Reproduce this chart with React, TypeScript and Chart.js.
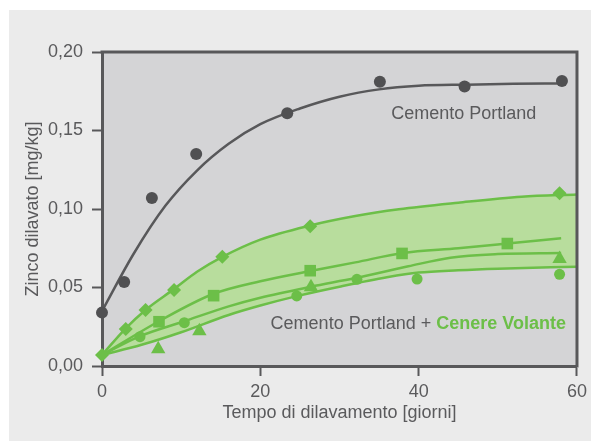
import React, { useEffect, useRef } from "react";
import { Chart, registerables } from "chart.js";

Chart.register(...registerables);

// ---------- style constants ----------
const FONT = '"Liberation Sans", Arial, Helvetica, sans-serif';
const GRAY = "#58585a";
const DARK_POINT = "#505052";
const TEXT = "#5a5a5c";
const GREEN = "#6cbf48";
const BAND = "#b8dd9d";
const PLOT_BG = "#d4d4d6";
const PANEL_BG = "#ebebeb";

// ---------- axes ----------
const xMin = 0;
const xMax = 60;
const xStep = 20;
const yMin = 0;
const yMax = 0.2;
const yStep = 0.05;
const xTitle = "Tempo di dilavamento [giorni]";
const yTitle = "Zinco dilavato [mg/kg]";

// ---------- Cemento Portland (dark) ----------
const cpX = [0, 2.8, 6.3, 11.9, 23.4, 35.1, 45.8, 58.1];
const cpY = [0.034, 0.0535, 0.107, 0.135, 0.161, 0.181, 0.178, 0.1815];
const cpFitX = [0, 4, 8, 12, 16, 20, 25, 30, 35, 40, 46, 52, 58];
const cpFitY = [0.035, 0.0715, 0.102, 0.1245, 0.1415, 0.154, 0.164, 0.1715, 0.1762, 0.1785, 0.1792, 0.1797, 0.18];

// ---------- Cemento Portland + Cenere Volante (green) ----------
const diamondX = [0, 3.0, 5.5, 9.1, 15.2, 26.3, 57.8];
const diamondY = [0.007, 0.0236, 0.0357, 0.0484, 0.0696, 0.089, 0.11];
const diamondFitX = [0, 3, 5.5, 9.1, 12, 15.2, 20, 26.3, 32, 37.5, 45, 53, 60];
const diamondFitY = [0.007, 0.024, 0.0357, 0.049, 0.06, 0.0695, 0.0805, 0.0895, 0.0955, 0.0998, 0.104, 0.1078, 0.1093];

const squareX = [7.2, 14.1, 26.3, 37.9, 51.2];
const squareY = [0.0282, 0.0448, 0.0607, 0.0717, 0.078];
const squareFitX = [0, 7.2, 14.1, 20, 26.3, 32, 38, 45, 51.2, 58];
const squareFitY = [0.007, 0.0285, 0.046, 0.054, 0.0605, 0.066, 0.072, 0.075, 0.078, 0.0814];

const circleX = [4.8, 10.4, 24.6, 32.2, 39.8, 57.8];
const circleY = [0.0187, 0.0276, 0.0446, 0.0552, 0.0554, 0.0584];
const upperLowX = [0, 4.8, 10.4, 16, 20, 26.4, 32, 38.7, 44, 50, 58];
const upperLowY = [0.007, 0.019, 0.0285, 0.038, 0.0435, 0.0505, 0.056, 0.0635, 0.069, 0.0713, 0.072];

const triangleX = [7.1, 12.3, 26.4, 57.8];
const triangleY = [0.0108, 0.0223, 0.0503, 0.0683];
const lowestX = [0, 5, 10, 16, 20, 24.6, 30, 36, 40, 45, 50, 60];
const lowestY = [0.007, 0.0135, 0.0215, 0.0325, 0.0385, 0.0445, 0.0505, 0.0565, 0.0595, 0.061, 0.062, 0.0632];

// ---------- annotations (data coordinates) ----------
const labelCP = "Cemento Portland";
const labelCPAt = { x: 45.7, y: 0.1573 };
const labelMixA = "Cemento Portland + ";
const labelMixB = "Cenere Volante";
const labelMixAt = { x: 58.6, y: 0.0234 };

const pts = (xs: number[], ys: number[]) => xs.map((x, i) => ({ x, y: ys[i] }));

const backgroundPlugin = {
  id: "bgPanel",
  beforeDraw(chart: any) {
    const { ctx, chartArea, width, height } = chart;
    ctx.save();
    ctx.fillStyle = "#ffffff";
    ctx.fillRect(0, 0, width, height);
    ctx.fillStyle = PANEL_BG;
    ctx.fillRect(9, 10, width - 10, height - 10);
    ctx.fillStyle = PLOT_BG;
    ctx.fillRect(chartArea.left, chartArea.top, chartArea.right - chartArea.left, chartArea.bottom - chartArea.top);
    ctx.restore();
  },
};

const framePlugin = {
  id: "frame",
  afterDatasetsDraw(chart: any) {
    const { ctx, chartArea } = chart;
    ctx.save();
    ctx.strokeStyle = GRAY;
    ctx.lineWidth = 3;
    ctx.beginPath();
    ctx.moveTo(chartArea.left - 1.5, chartArea.top);
    ctx.lineTo(chartArea.right, chartArea.top);
    ctx.lineTo(chartArea.right, chartArea.bottom + 1.5);
    ctx.stroke();
    ctx.restore();
  },
};

const labelsPlugin = {
  id: "labels",
  afterDatasetsDraw(chart: any) {
    const { ctx, scales } = chart;
    const xs = scales.x;
    const ys = scales.y;
    ctx.save();
    ctx.textBaseline = "alphabetic";
    ctx.font = `18px ${FONT}`;
    ctx.fillStyle = TEXT;
    ctx.textAlign = "center";
    ctx.fillText(labelCP, xs.getPixelForValue(labelCPAt.x), ys.getPixelForValue(labelCPAt.y));

    const rx = xs.getPixelForValue(labelMixAt.x);
    const by = ys.getPixelForValue(labelMixAt.y);
    ctx.textAlign = "left";
    ctx.font = `bold 18px ${FONT}`;
    const wB = ctx.measureText(labelMixB).width;
    ctx.font = `18px ${FONT}`;
    const wA = ctx.measureText(labelMixA).width;
    const startX = rx - wA - wB;
    ctx.fillStyle = TEXT;
    ctx.fillText(labelMixA, startX, by);
    ctx.font = `bold 18px ${FONT}`;
    ctx.fillStyle = GREEN;
    ctx.fillText(labelMixB, startX + wA, by);
    ctx.restore();
  },
};

export default function App() {
  const ref = useRef<HTMLCanvasElement | null>(null);

  useEffect(() => {
    if (!ref.current) return;
    Chart.defaults.font.family = FONT;

    const marker = (data: any[], style: string, radius: number, color: string) => ({
      data,
      showLine: false,
      pointStyle: style,
      pointRadius: radius,
      pointBackgroundColor: color,
      pointBorderColor: color,
      pointBorderWidth: 0,
      borderColor: color,
      backgroundColor: color,
      clip: false as any,
      fill: false,
    });
    const curve = (data: any[], color: string, extra: any = {}) => ({
      data,
      borderColor: color,
      borderWidth: 2.5,
      pointRadius: 0,
      cubicInterpolationMode: "monotone",
      clip: false as any,
      fill: false,
      ...extra,
    });

    const chart = new Chart(ref.current, {
      type: "line",
      data: {
        datasets: [
          marker(pts(cpX, cpY), "circle", 6, DARK_POINT),
          marker(pts(diamondX, diamondY), "rectRot", 7, GREEN),
          marker(pts(squareX, squareY), "rect", 8.2, GREEN),
          marker(pts(circleX, circleY), "circle", 5.5, GREEN),
          marker(pts(triangleX, triangleY), "triangle", 8.3, GREEN),
          curve(pts(cpFitX, cpFitY), GRAY),
          curve(pts(diamondFitX, diamondFitY), GREEN, { fill: 9, backgroundColor: BAND }),
          curve(pts(squareFitX, squareFitY), GREEN),
          curve(pts(upperLowX, upperLowY), GREEN),
          curve(pts(lowestX, lowestY), GREEN),
        ] as any,
      },
      options: {
        responsive: false,
        animation: false,
        devicePixelRatio: 1,
        events: [],
        layout: { padding: { left: 0, top: 52, right: 13, bottom: 0 } },
        plugins: {
          legend: { display: false },
          tooltip: { enabled: false },
          filler: { drawTime: "beforeDatasetsDraw" } as any,
        },
        scales: {
          x: {
            type: "linear",
            min: xMin,
            max: xMax,
            ticks: {
              stepSize: xStep,
              color: TEXT,
              font: { family: FONT, size: 18 },
              padding: 5,
              maxRotation: 0,
              callback: (v: any) => String(v),
            },
            grid: {
              drawOnChartArea: false,
              drawTicks: true,
              tickLength: 10,
              tickWidth: 2,
              tickColor: GRAY,
              color: GRAY,
            },
            border: { display: true, color: GRAY, width: 3 },
            title: {
              display: true,
              text: xTitle,
              color: TEXT,
              font: { family: FONT, size: 18 },
              padding: { top: 0, bottom: 17 },
            },
            afterFit: (s: any) => {
              s.height = 75;
            },
          },
          y: {
            type: "linear",
            min: yMin,
            max: yMax,
            ticks: {
              stepSize: yStep,
              color: TEXT,
              font: { family: FONT, size: 18 },
              padding: 9,
              callback: (v: any) => Number(v).toFixed(2).replace(".", ","),
            },
            grid: {
              drawOnChartArea: false,
              drawTicks: true,
              tickLength: 10,
              tickWidth: 2,
              tickColor: GRAY,
              color: GRAY,
            },
            border: { display: true, color: GRAY, width: 3 },
            title: {
              display: true,
              text: yTitle,
              color: TEXT,
              font: { family: FONT, size: 18 },
              padding: { top: 22, bottom: 0 },
            },
            afterFit: (s: any) => {
              s.width = 102;
            },
          },
        },
      } as any,
      plugins: [backgroundPlugin, framePlugin, labelsPlugin],
    });

    return () => chart.destroy();
  }, []);

  return (
    <canvas
      ref={ref}
      width={592}
      height={441}
      style={{ position: "fixed", left: 0, top: 0, width: 592, height: 441 }}
    />
  );
}
